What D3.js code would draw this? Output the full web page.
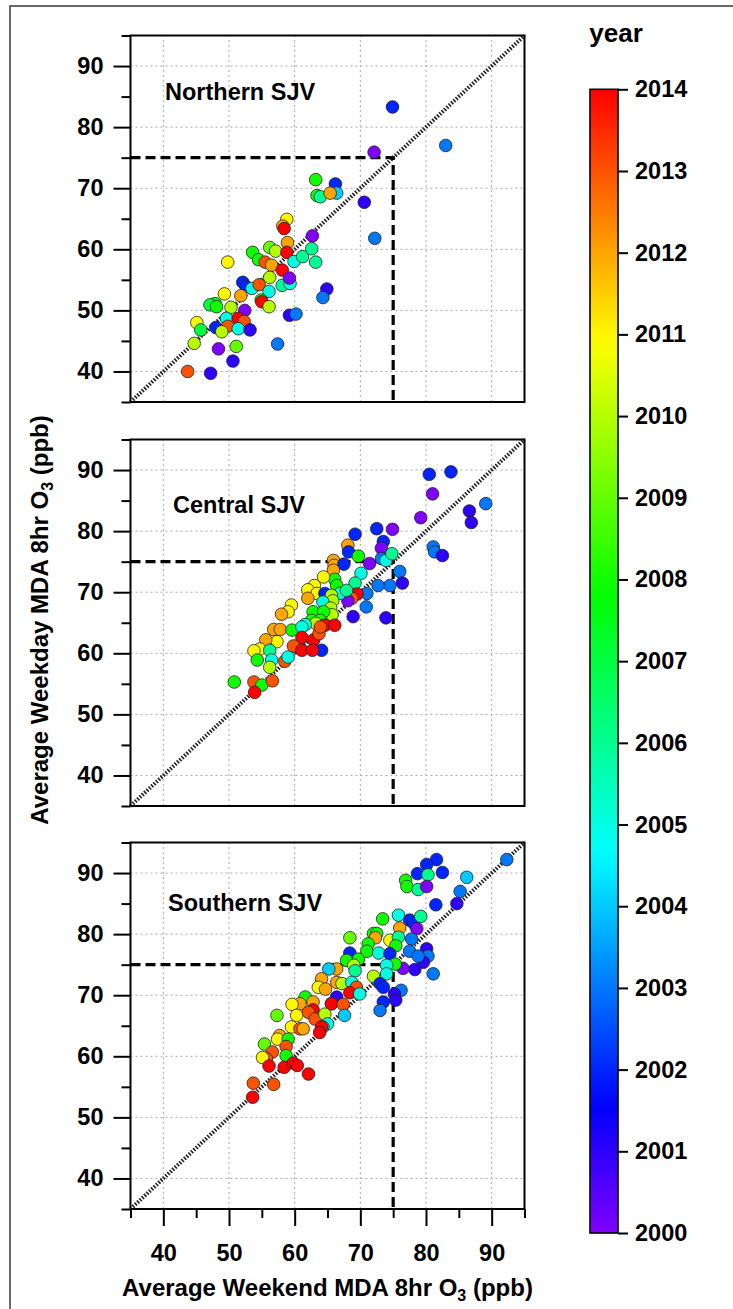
<!DOCTYPE html>
<html>
<head>
<meta charset="utf-8">
<script src="https://cdnjs.cloudflare.com/ajax/libs/d3/7.8.5/d3.min.js"></script>
<style>
  body { margin: 0; background: #fff; }
  svg { display: block; font-family: "Liberation Sans", Arial, sans-serif; font-weight: bold; }
</style>
</head>
<body>
<div id="plot"></div>
<script>

// Data

  var regions = ["Northern SJV", "Central SJV", "Southern SJV"];
  var majorTicks = [40, 50, 60, 70, 80, 90];
  var minorTicks = [35, 45, 55, 65, 75, 85, 95];
  var yearTicks = [2000, 2001, 2002, 2003, 2004, 2005, 2006, 2007, 2008, 2009, 2010, 2011, 2012, 2013, 2014];
  var standard = 75;

  var northWeekend = [74.9, 83.0, 72.1, 63.2, 66.2, 63.4, 63.9, 66.4, 65.4, 70.6, 72.2, 62.7, 58.8, 58.2, 58.4,
      58.9, 56.2, 57.1, 53.6, 54.5, 55.5, 56.5, 58.8, 59.9, 61.2, 62.6, 63.2, 49.8, 58.1, 56.2, 58.1, 59.3, 59.2,
      52.1, 52.6, 53.5, 54.6, 56.1, 51.8, 49.3, 54.9, 55.0, 56.1, 64.9, 64.3, 47.9, 47.1, 48.1, 50.3, 52.4, 49.6,
      51.4, 52.3, 49.8, 51.4, 53.2, 48.0, 48.9, 45.1, 45.7, 44.7, 48.4, 51.1, 59.2, 60.2, 57.4, 50.6, 43.7, 47.2];
  var northWeekday = [83.3, 77.0, 75.9, 71.4, 70.7, 68.8, 68.6, 69.2, 69.2, 67.7, 61.8, 62.2, 64.9, 63.8, 63.4,
      61.1, 60.3, 59.7, 59.5, 58.3, 57.9, 57.4, 59.5, 58.0, 58.8, 60.1, 57.9, 57.9, 56.6, 55.4, 54.1, 54.4, 55.3,
      54.6, 53.9, 53.6, 54.2, 53.1, 52.4, 52.7, 51.7, 51.4, 50.6, 53.5, 52.1, 51.1, 50.9, 50.6, 50.5, 50.0, 48.7,
      48.7, 48.2, 47.4, 47.0, 46.8, 47.2, 46.5, 48.0, 46.8, 44.6, 43.7, 44.1, 49.2, 49.4, 44.5, 41.7, 40.0, 39.7];
  var northYear = [2002, 2003, 2000, 2008, 2002, 2008, 2006, 2004, 2012, 2001, 2003, 2000, 2011, 2012, 2014,
      2012, 2009, 2010, 2008, 2008, 2013, 2012, 2014, 2005, 2006, 2006, 2006, 2011, 2014, 2010, 2006, 2005, 2000,
      2002, 2002, 2005, 2013, 2005, 2012, 2011, 2008, 2014, 2010, 2001, 2003, 2008, 2007, 2008, 2010, 2000, 2005,
      2014, 2013, 2013, 2005, 2001, 2002, 2010, 2011, 2007, 2010, 2000, 2009, 2001, 2003, 2003, 2001, 2013, 2001];

  var centralWeekend = [80.5, 83.8, 81.0, 79.2, 86.6, 86.9, 89.1, 81.1, 81.3, 82.5, 69.2, 72.5, 74.9, 73.5, 73.2,
      68.1, 68.2, 69.7, 71.4, 73.2, 73.9, 74.8, 65.9, 66.0, 67.5, 76.0, 76.4, 74.5, 72.7, 70.1, 69.2, 71.0, 70.9,
      68.9, 73.9, 69.5, 68.7, 68.1, 65.9, 66.1, 66.4, 64.4, 63.0, 62.0, 63.4, 62.0, 64.6, 66.9, 67.9, 65.6, 65.8,
      64.3, 65.5, 65.7, 62.8, 62.6, 64.4, 63.9, 63.2, 61.6, 59.5, 59.0, 58.0, 56.8, 57.8, 57.3, 55.6, 54.7, 53.8,
      54.3, 56.2, 56.5, 56.2, 58.5, 59.0, 59.6, 61.1, 64.1, 61.1, 59.8, 61.1, 62.9, 62.7, 63.7, 64.6, 66.1, 63.9,
      50.8, 53.8, 55.0, 56.6, 53.9];
  var centralWeekday = [89.3, 89.7, 86.1, 82.2, 83.3, 81.4, 84.5, 77.4, 76.6, 76.0, 79.5, 80.4, 80.3, 78.3, 77.2,
      77.7, 76.6, 75.9, 74.7, 75.5, 75.2, 76.3, 75.2, 74.4, 74.6, 73.4, 71.5, 71.1, 71.1, 73.1, 71.5, 69.8, 67.6,
      66.0, 65.8, 69.7, 69.0, 68.6, 73.6, 72.1, 71.1, 72.5, 71.1, 70.4, 69.8, 69.0, 69.8, 69.8, 70.3, 69.5, 68.6,
      68.4, 67.4, 66.3, 66.8, 65.4, 66.8, 65.4, 64.9, 64.7, 67.9, 66.8, 66.4, 63.9, 63.9, 61.9, 62.2, 60.7, 60.4,
      58.9, 60.5, 58.9, 57.7, 58.7, 59.4, 63.8, 64.3, 60.5, 62.6, 61.2, 60.5, 62.2, 60.5, 63.2, 64.6, 64.6, 64.3,
      55.3, 55.3, 54.8, 55.5, 53.6];
  var centralYear = [2002, 2002, 2000, 2000, 2001, 2001, 2003, 2003, 2003, 2001, 2002, 2002, 2000, 2002, 2000,
      2012, 2002, 2008, 2000, 2003, 2005, 2006, 2012, 2012, 2002, 2003, 2001, 2003, 2003, 2005, 2006, 2003, 2003,
      2001, 2001, 2014, 2013, 2000, 2012, 2008, 2008, 2011, 2011, 2011, 2011, 2012, 2002, 2005, 2006, 2010, 2010,
      2005, 2010, 2010, 2008, 2008, 2008, 2008, 2010, 2005, 2011, 2011, 2012, 2012, 2012, 2011, 2012, 2011, 2011,
      2008, 2006, 2005, 2010, 2013, 2005, 2008, 2005, 2002, 2014, 2013, 2014, 2014, 2014, 2013, 2014, 2014, 2013,
      2008, 2013, 2008, 2013, 2014];

  var southWeekend = [92.3, 81.6, 80.1, 82.5, 78.7, 80.3, 76.9, 77.1, 78.8, 80.1, 86.2, 85.2, 84.7, 81.5, 73.4,
      75.8, 77.5, 78.1, 79.2, 78.6, 76.0, 72.0, 72.5, 72.3, 74.5, 75.8, 75.4, 77.8, 68.4, 71.2, 71.0, 68.4, 72.8,
      74.5, 77.5, 80.1, 80.3, 79.6, 78.8, 81.1, 78.3, 76.5, 75.3, 74.0, 74.0, 72.0, 69.7, 67.9, 69.0, 69.2, 66.4,
      65.2, 64.1, 63.6, 64.7, 66.4, 67.2, 68.7, 69.4, 68.4, 69.9, 73.0, 73.5, 76.2, 75.2, 75.4, 73.5, 73.0, 66.4,
      65.6, 61.6, 60.8, 59.6, 62.8, 62.8, 65.6, 67.4, 67.6, 60.3, 57.3, 62.1, 63.1, 64.6, 65.0, 64.3, 59.5, 60.8,
      61.3, 64.1, 63.8, 57.7, 57.4, 59.0, 55.4, 58.7, 56.6, 58.7, 55.7, 55.1, 56.1, 58.4, 59.8, 60.4, 62.1, 53.7,
      56.8, 53.6];
  var southWeekday = [92.2, 92.2, 91.4, 90.1, 89.9, 89.7, 88.8, 87.8, 87.3, 87.8, 89.3, 87.0, 85.0, 84.8, 82.5,
      83.1, 82.3, 81.8, 82.9, 80.9, 81.0, 80.1, 80.1, 79.4, 79.0, 79.5, 78.1, 79.2, 79.4, 78.4, 77.2, 76.9, 76.9,
      76.8, 77.2, 77.6, 76.4, 75.4, 76.4, 73.5, 74.2, 74.4, 75.1, 74.9, 73.5, 73.1, 75.9, 75.7, 74.9, 74.0, 74.3,
      74.3, 72.7, 71.3, 71.0, 72.1, 71.9, 72.1, 71.3, 70.4, 70.2, 71.9, 71.3, 70.8, 70.2, 69.2, 68.9, 67.5, 69.7,
      68.6, 69.7, 68.6, 68.5, 68.9, 67.6, 68.6, 68.5, 66.7, 66.7, 66.7, 67.2, 66.1, 66.9, 65.3, 64.8, 64.8, 64.5,
      64.5, 64.8, 63.9, 63.4, 62.8, 62.8, 62.0, 61.6, 60.7, 60.1, 59.6, 59.8, 58.4, 58.2, 58.9, 58.5, 57.1, 55.6,
      55.4, 53.3];
  var southYear = [2003, 2002, 2002, 2002, 2002, 2006, 2008, 2008, 2006, 2000, 2004, 2003, 2001, 2002, 2008,
      2005, 2002, 2002, 2006, 2000, 2012, 2008, 2008, 2012, 2011, 2006, 2008, 2003, 2009, 2008, 2008, 2002, 2005,
      2002, 2003, 2001, 2003, 2001, 2003, 2003, 2001, 2000, 2008, 2005, 2005, 2010, 2008, 2008, 2010, 2006, 2012,
      2004, 2012, 2011, 2012, 2012, 2010, 2005, 2013, 2014, 2005, 2002, 2002, 2003, 2001, 2001, 2002, 2003, 2001,
      2008, 2008, 2012, 2011, 2012, 2014, 2014, 2013, 2004, 2011, 2009, 2013, 2013, 2010, 2005, 2005, 2011, 2013,
      2012, 2014, 2014, 2012, 2011, 2008, 2009, 2013, 2013, 2008, 2013, 2011, 2014, 2014, 2014, 2014, 2014, 2013,
      2013, 2014];

  var panels = [
    {name: regions[0], x: northWeekend, y: northWeekday, year: northYear},
    {name: regions[1], x: centralWeekend, y: centralWeekday, year: centralYear},
    {name: regions[2], x: southWeekend, y: southWeekday, year: southYear}
  ];

// Layout

  var w = 733;
  var h = 1309;
  var plotLeft = 130.5;
  var plotRight = 524.5;
  var panelTops = [35.5, 439.5, 842.5];
  var panelHeight = 366.5;
  var labelPos = [[165, 64.5], [173, 73.5], [168, 68.5]];
  var fontSize = 23.5;

  var xScale = d3.scaleLinear()
      .domain([35, 95])
      .range([plotLeft, plotRight]);

  var colorScale = d3.scaleLinear()
      .domain([2000, 2001.55, 2004.65, 2007.8, 2010.9, 2014])
      .range(["#8000ff", "#0000ff", "#00ffff", "#00ff00", "#ffff00", "#ff0000"])
      .interpolate(d3.interpolateRgb);

// add svg

  var svg = d3.select("div#plot")
    .append("svg")
      .attr("width", w)
      .attr("height", h);

  svg.append("rect")
      .attr("width", w)
      .attr("height", h)
      .attr("fill", "white");

// outer frame

  svg.append("rect")
      .attr("x", 10)
      .attr("y", 6)
      .attr("width", w + 20)
      .attr("height", h + 20)
      .attr("fill", "none")
      .attr("stroke", "#444")
      .attr("stroke-width", 1.6);

// panels

  panels.forEach(function(p, k) {
      var top = panelTops[k];
      var yScale = d3.scaleLinear()
          .domain([35, 95])
          .range([top + panelHeight, top]);

      var g = svg.append("g");

      // grid
      g.selectAll(".gx")
          .data(majorTicks)
        .enter().append("line")
          .attr("x1", d => xScale(d))
          .attr("x2", d => xScale(d))
          .attr("y1", yScale(35))
          .attr("y2", yScale(95))
          .attr("stroke", "#aaa")
          .attr("stroke-width", 1)
          .attr("stroke-dasharray", "2,3");

      g.selectAll(".gy")
          .data(majorTicks)
        .enter().append("line")
          .attr("x1", xScale(35))
          .attr("x2", xScale(95))
          .attr("y1", d => yScale(d))
          .attr("y2", d => yScale(d))
          .attr("stroke", "#aaa")
          .attr("stroke-width", 1)
          .attr("stroke-dasharray", "2,3");

      // 1:1 line
      g.append("line")
          .attr("x1", xScale(35))
          .attr("y1", yScale(35))
          .attr("x2", xScale(95))
          .attr("y2", yScale(95))
          .attr("stroke", "#222")
          .attr("stroke-width", 4)
          .attr("stroke-dasharray", "1.6,1.6");

      // 75 ppb standard
      g.append("path")
          .attr("d", `M${xScale(35)},${yScale(standard)}H${xScale(standard)}V${yScale(35)}`)
          .attr("fill", "none")
          .attr("stroke", "black")
          .attr("stroke-width", 3.2)
          .attr("stroke-dasharray", "10,5");

      // points
      g.selectAll("circle")
          .data(d3.range(p.x.length))
        .enter().append("circle")
          .attr("cx", i => xScale(p.x[i]))
          .attr("cy", i => yScale(p.y[i]))
          .attr("r", 6.3)
          .attr("fill", i => colorScale(p.year[i]))
          .attr("stroke", "#222")
          .attr("stroke-width", 0.8);

      // box
      g.append("rect")
          .attr("x", xScale(35))
          .attr("y", yScale(95))
          .attr("width", xScale(95) - xScale(35))
          .attr("height", yScale(35) - yScale(95))
          .attr("fill", "none")
          .attr("stroke", "black")
          .attr("stroke-width", 2);

      // y axis
      var yMajor = g.append("g")
          .attr("transform", `translate(${plotLeft},0)`)
          .call(d3.axisLeft(yScale).tickValues(majorTicks).tickSize(17).tickPadding(10).tickSizeOuter(0));
      var yMinor = g.append("g")
          .attr("transform", `translate(${plotLeft},0)`)
          .call(d3.axisLeft(yScale).tickValues(minorTicks).tickSize(9).tickFormat("").tickSizeOuter(0));

      [yMajor, yMinor].forEach(function(a) {
          a.select(".domain").remove();
          a.selectAll("line").attr("stroke-width", 2);
          a.selectAll("text")
              .attr("font-size", fontSize)
              .attr("font-family", "'Liberation Sans', Arial, sans-serif")
              .attr("font-weight", "bold")
              .attr("fill", "black");
      });

      // x axis only on the bottom panel
      if (k == panels.length - 1) {
          var xMajor = g.append("g")
              .attr("transform", `translate(0,${yScale(35)})`)
              .call(d3.axisBottom(xScale).tickValues(majorTicks).tickSize(17).tickPadding(18).tickSizeOuter(0));
          var xMinor = g.append("g")
              .attr("transform", `translate(0,${yScale(35)})`)
              .call(d3.axisBottom(xScale).tickValues(minorTicks).tickSize(9).tickFormat("").tickSizeOuter(0));

          [xMajor, xMinor].forEach(function(a) {
              a.select(".domain").remove();
              a.selectAll("line").attr("stroke-width", 2);
              a.selectAll("text")
                  .attr("font-size", fontSize)
                  .attr("font-family", "'Liberation Sans', Arial, sans-serif")
                  .attr("font-weight", "bold")
                  .attr("fill", "black");
          });
      }

      // region label
      g.append("text")
          .attr("x", labelPos[k][0])
          .attr("y", top + labelPos[k][1])
          .attr("font-size", fontSize)
          .text(p.name);
  });

// axis titles

  var xTitle = svg.append("text")
      .attr("x", (plotLeft + plotRight) / 2)
      .attr("y", 1296)
      .attr("text-anchor", "middle")
      .attr("font-size", 24);
  xTitle.append("tspan").text("Average Weekend MDA 8hr O");
  xTitle.append("tspan").attr("font-size", 16).attr("dy", 5).text("3");
  xTitle.append("tspan").attr("dy", -5).text(" (ppb)");

  var yTitle = svg.append("text")
      .attr("transform", "translate(48,620) rotate(-90)")
      .attr("text-anchor", "middle")
      .attr("font-size", 24);
  yTitle.append("tspan").text("Average Weekday MDA 8hr O");
  yTitle.append("tspan").attr("font-size", 16).attr("dy", 5).text("3");
  yTitle.append("tspan").attr("dy", -5).text(" (ppb)");

// colour bar

  var cbX = 590;
  var cbW = 28;
  var cScale = d3.scaleLinear()
      .domain([2014, 2000])
      .range([89.3, 1233]);

  var grad = svg.append("defs").append("linearGradient")
      .attr("id", "yearGrad")
      .attr("x1", 0).attr("y1", 1)
      .attr("x2", 0).attr("y2", 0);

  grad.selectAll("stop")
      .data(d3.range(0, 57))
    .enter().append("stop")
      .attr("offset", i => i / 56)
      .attr("stop-color", i => colorScale(2000 + i * 14 / 56));

  svg.append("rect")
      .attr("x", cbX)
      .attr("y", cScale(2014))
      .attr("width", cbW)
      .attr("height", cScale(2000) - cScale(2014))
      .attr("fill", "url(#yearGrad)")
      .attr("stroke", "black")
      .attr("stroke-width", 1.6);

  var cbAxis = svg.append("g")
      .attr("transform", `translate(${cbX + cbW},0)`)
      .call(d3.axisRight(cScale).tickValues(yearTicks).tickFormat(d3.format("d")).tickSize(10).tickPadding(7).tickSizeOuter(0));

  cbAxis.select(".domain").remove();
  cbAxis.selectAll("line").attr("stroke-width", 2);
  cbAxis.selectAll("text")
      .attr("font-size", fontSize)
      .attr("font-family", "'Liberation Sans', Arial, sans-serif")
      .attr("font-weight", "bold")
      .attr("fill", "black");

  svg.append("text")
      .attr("x", 616)
      .attr("y", 42)
      .attr("text-anchor", "middle")
      .attr("font-size", 26)
      .text("year");

</script>
</body>
</html>
